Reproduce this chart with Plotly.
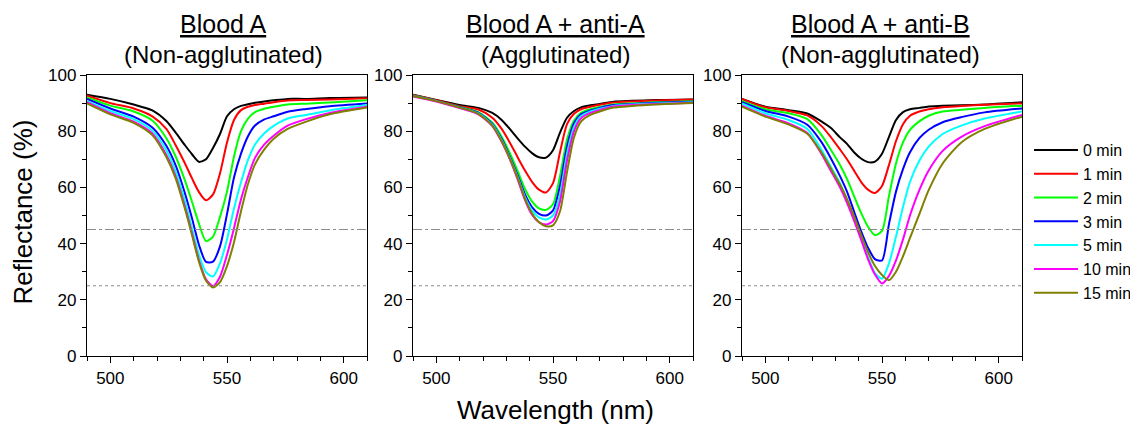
import plotly.graph_objects as go

# ---------------- data ----------------
WL = [490, 500, 510, 518, 524, 528, 532, 535, 538, 541, 544, 547, 550, 553, 556, 559, 562, 566, 570, 576, 584, 594, 610]

TIMES = ["0 min", "1 min", "2 min", "3 min", "5 min", "10 min", "15 min"]
COLORS = ["#000000", "#ff0000", "#00ff00", "#0000ff", "#00ffff", "#ff00ff", "#808000"]

PANEL_TITLES = ["Blood A", "Blood A + anti-A", "Blood A + anti-B"]
PANEL_SUBTITLES = ["(Non-agglutinated)", "(Agglutinated)", "(Non-agglutinated)"]

# Panel 1: Blood A (non-agglutinated)
A_0 = [93.0, 91.5, 89.5, 87.4, 83.6, 79.5, 75.0, 71.8, 69.1, 70.0, 74.0, 79.0, 85.3, 87.8, 89.0, 89.6, 90.1, 90.6, 91.0, 91.5, 91.5, 91.8, 92.0]
A_1 = [92.6, 90.0, 88.1, 85.3, 80.8, 75.0, 68.5, 63.2, 58.3, 55.4, 57.5, 65.0, 76.0, 84.0, 87.5, 88.7, 89.3, 89.8, 90.3, 90.9, 91.1, 91.3, 91.7]
A_2 = [92.0, 89.1, 87.0, 83.8, 77.5, 71.0, 62.4, 54.9, 47.0, 40.9, 42.5, 49.5, 58.5, 71.0, 80.0, 84.5, 86.8, 88.0, 88.7, 89.5, 89.8, 90.2, 91.0]
A_3 = [91.5, 88.1, 85.2, 81.3, 74.8, 67.8, 57.8, 49.0, 39.5, 33.5, 33.6, 39.0, 50.5, 63.5, 72.0, 78.2, 82.0, 84.2, 85.3, 86.9, 87.9, 88.9, 89.9]
A_5 = [90.7, 87.2, 84.3, 80.2, 73.2, 65.5, 55.0, 45.4, 36.0, 29.8, 28.3, 33.0, 41.5, 52.5, 61.8, 69.8, 75.3, 79.3, 81.9, 84.5, 85.8, 87.4, 89.3]
A_10 = [90.3, 86.4, 83.4, 79.2, 71.5, 63.8, 53.0, 43.7, 34.0, 27.3, 24.9, 28.2, 36.0, 45.5, 55.8, 63.8, 70.5, 75.3, 78.4, 82.0, 84.3, 86.5, 88.7]
A_15 = [89.9, 86.0, 83.0, 78.6, 70.8, 63.2, 52.3, 43.1, 33.5, 26.8, 24.4, 26.3, 32.0, 40.5, 51.5, 61.2, 68.2, 73.5, 77.3, 80.8, 83.4, 86.0, 88.4]

# Panel 2: Blood A + anti-A (agglutinated)
AA_0 = [93.0, 91.1, 89.3, 88.3, 86.5, 84.0, 80.3, 77.3, 74.5, 72.2, 70.7, 70.6, 73.2, 79.5, 84.8, 87.2, 88.5, 89.2, 89.7, 90.5, 90.8, 91.1, 91.3]
AA_1 = [92.9, 91.0, 88.9, 87.7, 84.8, 80.8, 75.2, 70.5, 66.0, 62.0, 59.2, 58.2, 61.5, 72.5, 82.5, 86.2, 87.8, 88.7, 89.4, 90.2, 90.6, 90.9, 91.3]
AA_2 = [92.7, 90.8, 88.6, 86.8, 83.0, 78.0, 71.3, 65.5, 59.5, 55.0, 52.5, 52.0, 54.0, 64.0, 77.0, 83.8, 86.5, 87.8, 88.6, 89.5, 89.9, 90.3, 90.7]
AA_3 = [92.6, 90.8, 88.5, 86.5, 82.6, 77.2, 70.0, 64.0, 57.5, 53.0, 50.6, 50.0, 51.8, 60.5, 74.5, 82.8, 86.0, 87.4, 88.3, 89.3, 89.7, 90.1, 90.5]
AA_5 = [92.5, 90.7, 88.4, 86.3, 82.3, 76.8, 69.5, 63.3, 56.5, 51.8, 49.3, 48.6, 50.0, 57.5, 72.0, 81.5, 85.4, 87.0, 88.0, 89.0, 89.5, 89.9, 90.3]
AA_10 = [92.4, 90.6, 88.2, 86.0, 81.8, 76.2, 69.0, 62.5, 55.5, 50.3, 47.6, 46.8, 48.0, 55.0, 69.5, 80.0, 84.6, 86.5, 87.6, 88.8, 89.3, 89.7, 90.1]
AA_15 = [92.5, 90.7, 88.4, 86.2, 82.0, 76.5, 69.3, 63.0, 56.0, 50.8, 47.6, 46.2, 46.5, 51.5, 65.5, 77.8, 83.4, 85.8, 87.0, 88.4, 89.0, 89.5, 90.0]

# Panel 3: Blood A + anti-B (non-agglutinated)
AB_0 = [91.5, 88.7, 87.5, 86.3, 83.5, 81.2, 77.8, 75.5, 72.5, 70.3, 69.0, 69.2, 72.0, 78.0, 84.0, 86.8, 87.8, 88.3, 88.8, 89.1, 89.2, 89.5, 90.3]
AB_1 = [91.5, 88.5, 87.2, 85.6, 81.9, 78.0, 73.5, 70.0, 66.0, 62.0, 59.2, 58.0, 60.5, 68.0, 76.5, 82.5, 85.5, 87.0, 87.8, 88.5, 89.0, 89.4, 89.9]
AB_2 = [90.7, 87.8, 86.4, 84.3, 78.7, 73.5, 68.0, 63.0, 57.0, 51.0, 46.0, 43.0, 44.5, 57.0, 68.5, 76.0, 80.5, 83.5, 85.5, 87.0, 87.6, 88.3, 89.1]
AB_3 = [90.3, 87.2, 85.2, 82.3, 76.2, 70.5, 64.0, 58.5, 51.5, 44.5, 38.5, 34.5, 34.0, 47.0, 58.5, 66.5, 72.5, 77.5, 80.5, 83.2, 85.0, 86.7, 88.1]
AB_5 = [89.9, 86.4, 84.0, 80.8, 73.5, 67.5, 61.5, 55.5, 49.0, 42.3, 35.2, 29.5, 27.5, 33.0, 42.5, 53.0, 62.0, 69.5, 74.5, 79.0, 82.0, 84.5, 87.0]
AB_10 = [89.1, 85.5, 82.8, 79.4, 72.0, 66.0, 60.0, 54.5, 48.3, 41.5, 34.5, 29.0, 25.8, 28.5, 34.0, 41.5, 50.0, 59.0, 66.0, 73.0, 78.0, 81.8, 85.8]
AB_15 = [88.7, 85.2, 82.4, 79.1, 72.5, 66.8, 61.0, 55.8, 49.8, 43.3, 37.0, 32.0, 28.8, 27.0, 30.0, 35.5, 42.0, 50.5, 59.0, 68.5, 76.0, 80.8, 85.2]

PANELS = [
    [A_0, A_1, A_2, A_3, A_5, A_10, A_15],
    [AA_0, AA_1, AA_2, AA_3, AA_5, AA_10, AA_15],
    [AB_0, AB_1, AB_2, AB_3, AB_5, AB_10, AB_15],
]

REF_LEVELS = [45, 25]
REF_DASH = ["dashdot", "dot"]

X_RANGE = [490, 610]
Y_RANGE = [0, 100]
X_TICKS = [500, 550, 600]
Y_TICKS = [0, 20, 40, 60, 80, 100]

# ---------------- layout geometry (screen pixels) ----------------
OFF = 8                      # page body margin in the browser
W, H = 1138 - OFF, 427 - OFF
PLOT_LEFT = [87, 413, 742]
PLOT_W = 280
PLOT_TOP, PLOT_BOTTOM = 75, 356
FONT = "Liberation Sans, Arial, sans-serif"


def px(xs):
    return (xs - OFF) / W


def py(ys):
    return 1 - (ys - OFF) / H


fig = go.Figure()

for p, series in enumerate(PANELS):
    xa = "x" if p == 0 else f"x{p+1}"
    ya = "y" if p == 0 else f"y{p+1}"
    for k, vals in enumerate(series):
        fig.add_trace(go.Scatter(
            x=WL, y=vals, mode="lines",
            line=dict(color=COLORS[k], width=2, shape="spline", smoothing=0.7),
            name=TIMES[k], showlegend=(p == 2),
            xaxis=xa, yaxis=ya, hoverinfo="skip",
        ))
    for lvl, dash in zip(REF_LEVELS, REF_DASH):
        fig.add_trace(go.Scatter(
            x=X_RANGE, y=[lvl, lvl], mode="lines",
            line=dict(color="#8c8c8c", width=1.1, dash=dash),
            showlegend=False, xaxis=xa, yaxis=ya, hoverinfo="skip",
        ))

layout = dict(
    width=W, height=H,
    margin=dict(l=0, r=0, t=0, b=0, autoexpand=False),
    paper_bgcolor="white", plot_bgcolor="white",
    font=dict(family=FONT, color="black", size=17),
    showlegend=True,
    legend=dict(
        x=px(1029), y=py(133), xanchor="left", yanchor="top",
        font=dict(family=FONT, size=16, color="black"),
        itemwidth=44, tracegroupgap=0, bgcolor="rgba(0,0,0,0)",
        borderwidth=0,
    ),
)

ydom = [py(PLOT_BOTTOM), py(PLOT_TOP)]
axis_common = dict(showgrid=False, zeroline=False, linecolor="black", linewidth=1.4)
for p in range(3):
    xd = [px(PLOT_LEFT[p]), px(PLOT_LEFT[p] + PLOT_W)]
    n = "" if p == 0 else str(p + 1)
    o = str(p + 4)
    layout["xaxis" + n] = dict(
        domain=xd, range=X_RANGE, anchor="y" + n, tickvals=X_TICKS,
        ticks="outside", ticklen=6, tickwidth=1.3, tickcolor="black",
        minor=dict(dtick=10, ticks="outside", ticklen=3.5, tickwidth=1.1, tickcolor="black", tick0=490),
        showline=True, mirror=True, tickfont=dict(size=17), **axis_common,
    )
    layout["yaxis" + n] = dict(
        domain=ydom, range=Y_RANGE, anchor="x" + n, tickvals=Y_TICKS,
        ticks="outside", ticklen=6, tickwidth=1.3, tickcolor="black",
        minor=dict(dtick=10, ticks="outside", ticklen=3.5, tickwidth=1.1, tickcolor="black", tick0=0),
        showline=True, mirror=True, tickfont=dict(size=17), **axis_common,
    )
    # inward ticks on the top and right edges
    layout["xaxis" + o] = dict(
        overlaying="x" + n, side="top", anchor="y" + n, range=X_RANGE, tickvals=X_TICKS,
        ticks="inside", ticklen=6, tickwidth=1.3, tickcolor="black", showticklabels=False,
        minor=dict(dtick=10, ticks="inside", ticklen=3.5, tickwidth=1.1, tickcolor="black", tick0=490),
        showline=False, showgrid=False, zeroline=False,
    )
    layout["yaxis" + o] = dict(
        overlaying="y" + n, side="right", anchor="x" + n, range=Y_RANGE, tickvals=Y_TICKS,
        ticks="inside", ticklen=6, tickwidth=1.3, tickcolor="black", showticklabels=False,
        minor=dict(dtick=10, ticks="inside", ticklen=3.5, tickwidth=1.1, tickcolor="black", tick0=0),
        showline=False, showgrid=False, zeroline=False,
    )

annotations = []
title_cx = [223, 555, 880]
for p in range(3):
    annotations.append(dict(
        text=f"<u>{PANEL_TITLES[p]}</u>", x=px(title_cx[p]), y=py(23.5),
        xref="paper", yref="paper", xanchor="center", yanchor="middle",
        showarrow=False, font=dict(family=FONT, size=25, color="black"),
    ))
    annotations.append(dict(
        text=PANEL_SUBTITLES[p], x=px(title_cx[p]), y=py(54),
        xref="paper", yref="paper", xanchor="center", yanchor="middle",
        showarrow=False, font=dict(family=FONT, size=24, color="black"),
    ))
annotations.append(dict(
    text="Wavelength (nm)", x=px(555), y=py(410), xref="paper", yref="paper",
    xanchor="center", yanchor="middle", showarrow=False,
    font=dict(family=FONT, size=26, color="black"),
))
annotations.append(dict(
    text="Reflectance (%)", x=px(22), y=py(212.5), xref="paper", yref="paper",
    xanchor="center", yanchor="middle", showarrow=False, textangle=-90,
    font=dict(family=FONT, size=26, color="black"),
))
layout["annotations"] = annotations

fig.update_layout(**layout)
fig.write_html("out.html")
